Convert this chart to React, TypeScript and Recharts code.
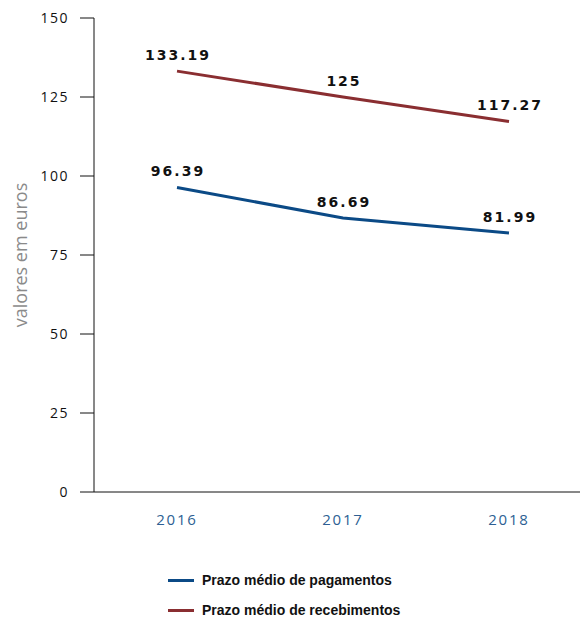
import { LineChart, Line, XAxis, YAxis, LabelList, Label } from 'recharts'

const anos = ['2016', '2017', '2018']
const pagamentos = [96.39, 86.69, 81.99]
const recebimentos = [133.19, 125, 117.27]
const yTicks = [0, 25, 50, 75, 100, 125, 150]

const dados = anos.map((ano, i) => ({ ano, pagamentos: pagamentos[i], recebimentos: recebimentos[i] }))

const AZUL = '#0b4a86'
const VERMELHO = '#8a2e31'

function ValorLabel(props: any) {
  const { x, y, value } = props
  return (
    <text
      x={x + 1}
      y={y - 11}
      textAnchor="middle"
      fontFamily="'DejaVu Sans', sans-serif"
      fontWeight="bold"
      fontSize={14}
      letterSpacing={2}
      fill="#111"
    >
      {String(value)}
    </text>
  )
}

function Legenda() {
  const itens = [
    { nome: 'Prazo médio de pagamentos', cor: AZUL },
    { nome: 'Prazo médio de recebimentos', cor: VERMELHO },
  ]
  return (
    <div
      style={{
        position: 'absolute',
        left: 168,
        top: 565,
        fontFamily: "'Liberation Sans', Arial, sans-serif",
        fontWeight: 'bold',
        fontSize: 14,
        color: '#111',
      }}
    >
      {itens.map((it) => (
        <div key={it.nome} style={{ display: 'flex', alignItems: 'center', height: 30 }}>
          <span style={{ display: 'inline-block', width: 26, height: 3, background: it.cor, marginRight: 8 }} />
          {it.nome}
        </div>
      ))}
    </div>
  )
}

export default function App() {
  return (
    <div style={{ position: 'absolute', left: 0, top: 0, width: 582, height: 618, background: '#fff' }}>
      <LineChart width={582} height={618} data={dados} margin={{ top: 18, right: 2, left: 0, bottom: 86 }}>
        <XAxis
          dataKey="ano"
          stroke="#111"
          tickLine={false}
          tickMargin={16}
          padding={{ left: 83, right: 71 }}
          tick={{ fill: '#2d5f93', fontSize: 15, fontFamily: "'Open Sans', sans-serif", letterSpacing: 1.8 }}
          height={40}
        />
        <YAxis
          width={94}
          domain={[0, 150]}
          ticks={yTicks}
          stroke="#111"
          tickSize={14}
          tickMargin={11}
          tick={{ fill: '#111', fontSize: 14, fontFamily: "'Open Sans', sans-serif", letterSpacing: 1.5 }}
        >
          <Label
            content={() => (
              <text
                x={22}
                y={255}
                transform="rotate(-90 22 255)"
                textAnchor="middle"
                dominantBaseline="middle"
                fill="#8a8a8a"
                fontSize={18}
                fontFamily="'Open Sans', sans-serif"
              >
                valores em euros
              </text>
            )}
          />
        </YAxis>
        <Line
          type="linear"
          dataKey="pagamentos"
          stroke={AZUL}
          strokeWidth={3}
          dot={false}
          isAnimationActive={false}
        >
          <LabelList dataKey="pagamentos" content={ValorLabel} />
        </Line>
        <Line
          type="linear"
          dataKey="recebimentos"
          stroke={VERMELHO}
          strokeWidth={3}
          dot={false}
          isAnimationActive={false}
        >
          <LabelList dataKey="recebimentos" content={ValorLabel} />
        </Line>
      </LineChart>
      <Legenda />
    </div>
  )
}
